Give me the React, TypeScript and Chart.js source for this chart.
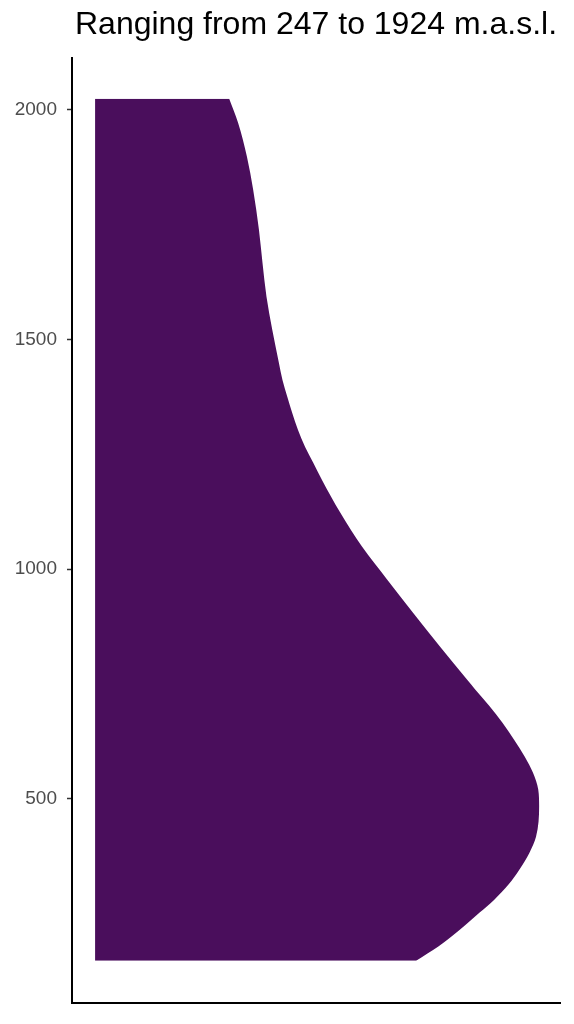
import React, { useEffect, useRef } from "react";
import { Chart, registerables } from "chart.js";

Chart.register(...registerables);

const titleText = "Ranging from 247 to 1924 m.a.s.l.";
// elevation (m.a.s.l.) along the density outline, bottom to top
const elevation = [147, 178, 215, 252, 280, 313, 345, 382, 417, 483, 520, 557, 591, 628, 666, 702, 738, 759, 831, 905, 977, 1049, 1123, 1194, 1232, 1266, 1303, 1340, 1375, 1412, 1449, 1521, 1593, 1667, 1739, 1826, 1898, 1972, 2024];
// relative density (scaled to max = 1)
const density = [0.723, 0.773, 0.822, 0.866, 0.899, 0.931, 0.955, 0.978, 0.993, 1.0, 0.998, 0.986, 0.968, 0.944, 0.917, 0.888, 0.856, 0.838, 0.777, 0.716, 0.658, 0.601, 0.552, 0.511, 0.491, 0.473, 0.457, 0.444, 0.433, 0.422, 0.414, 0.399, 0.386, 0.377, 0.369, 0.356, 0.342, 0.322, 0.302];
const yTicks = [500, 1000, 1500, 2000];
const yMin = 56;
const yMax = 2113;
const xMin = -0.052;
const xMax = 1.047;

export default function App() {
  const ref = useRef<HTMLCanvasElement | null>(null);
  useEffect(() => {
    document.body.style.margin = "0";
    if (!ref.current) return;
    const pts = elevation.map((e, i) => ({ x: density[i], y: e }));

    const chart = new Chart(ref.current, {
      type: "line",
      data: {
        datasets: [
          {
            data: pts,
            fill: "origin",
            backgroundColor: "#4A0E5C",
            borderWidth: 0,
            borderColor: "rgba(0,0,0,0)",
            pointRadius: 0,
            cubicInterpolationMode: "monotone",
          } as any,
        ],
      },
      options: {
        animation: false,
        responsive: true,
        maintainAspectRatio: false,
        indexAxis: "y",
        layout: { padding: { left: 0, right: 14, top: 0, bottom: 0 } },
        plugins: {
          legend: { display: false },
          tooltip: { enabled: false },
          title: {
            display: true,
            text: titleText,
            fullSize: false,
            color: "#000000",
            font: { family: "'Liberation Sans', Arial, sans-serif", size: 32, weight: "normal" },
            padding: { top: 6.4, bottom: 13.2 },
          },
        },
        scales: {
          x: {
            type: "linear",
            min: xMin,
            max: xMax,
            ticks: { display: false },
            grid: { display: false },
            border: { display: true, color: "#000000", width: 2 },
            afterFit: (s: any) => {
              s.height = 21;
            },
          },
          y: {
            type: "linear",
            min: yMin,
            max: yMax,
            afterBuildTicks: (s: any) => {
              s.ticks = yTicks.map((v) => ({ value: v }));
            },
            ticks: {
              color: "#4D4D4D",
              padding: 10,
              font: { family: "'Liberation Sans', Arial, sans-serif", size: 19 },
              callback: (v: any) => String(v),
            },
            grid: {
              display: true,
              drawOnChartArea: false,
              drawTicks: true,
              tickLength: 5,
              tickColor: "#333333",
              tickWidth: 1.5,
            } as any,
            border: { display: true, color: "#000000", width: 2 },
            afterFit: (s: any) => {
              s.width = 72;
            },
          },
        },
      },
    });
    return () => chart.destroy();
  }, []);
  return (
    <div style={{ position: "absolute", left: 0, top: 0, width: 574, height: 1024 }}>
      <canvas ref={ref} />
    </div>
  );
}
